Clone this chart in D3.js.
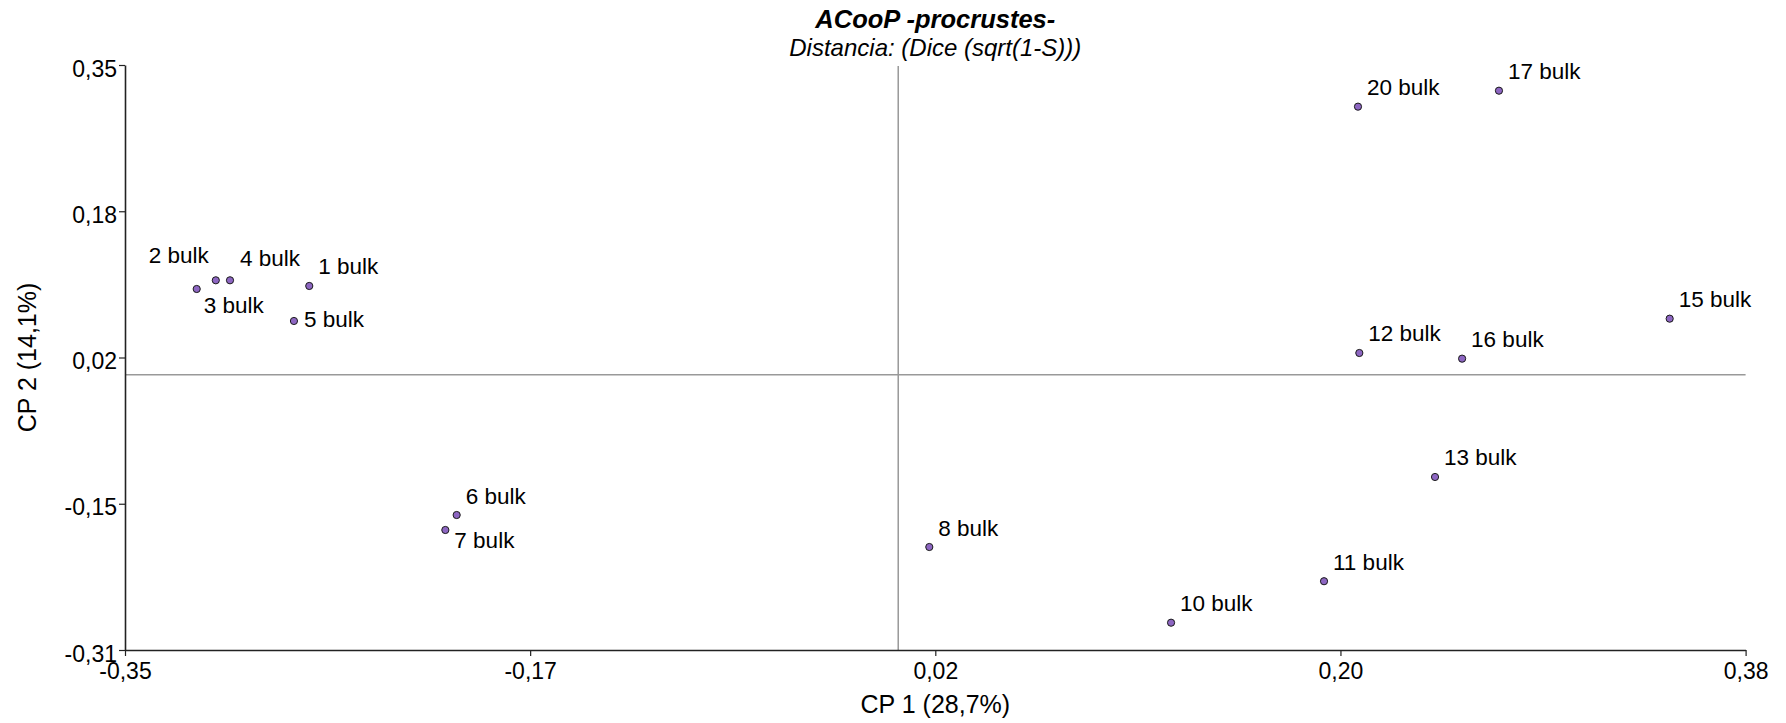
<!DOCTYPE html>
<html lang="es">
<head>
    <meta charset="utf-8">
    <script src="https://d3js.org/d3.v7.min.js"></script>
    <title>ACooP -procrustes-</title>
    <style>
        body { margin: 0; background: #fff; }
        svg { display: block; font-family: "Liberation Sans", Arial, sans-serif; }
    </style>
</head>
<body>
    <div id="container"></div>
    <script>
        // puntos (CP 1, CP 2)
        const names = ["1 bulk","2 bulk","3 bulk","4 bulk","5 bulk","6 bulk","7 bulk","8 bulk",
                       "10 bulk","11 bulk","12 bulk","13 bulk","15 bulk","16 bulk","17 bulk","20 bulk"];
        const cp1 = [-0.2653,-0.3074,-0.3160,-0.3010,-0.2722,-0.1989,-0.2040, 0.0140,
                      0.1229, 0.1918, 0.2077, 0.2418, 0.3475, 0.2540, 0.2706, 0.2071];
        const cp2 = [ 0.1001, 0.1065, 0.0967, 0.1065, 0.0606,-0.1583,-0.1752,-0.1944,
                     -0.2798,-0.2330, 0.0245,-0.1154, 0.0632, 0.0181, 0.3204, 0.3024];
        // donde va la etiqueta respecto del punto
        const labelPlace = ["ne","nw","se","n","e","ne","se2","ne",
                            "ne","ne","ne","ne","ne","ne","ne","ne"];

        const xTickLabels = ["-0,35","-0,17","0,02","0,20","0,38"];
        const yTickLabels = ["-0,31","-0,15","0,02","0,18","0,35"];
        const xDomain = [-0.3483, 0.3817];
        const yDomain = [-0.3106, 0.3494];

        const title = "ACooP -procrustes-";
        const subtitle = "Distancia: (Dice (sqrt(1-S)))";
        const xLabel = "CP 1 (28,7%)";
        const yLabel = "CP 2 (14,1%)";

        const w = 1786;
        const h = 723;
        const M = {left: 125, right: 1745.6, top: 65, bottom: 650};

        const places = {
            ne:  {dx: 9,  dy: -11.5, anchor: "start"},
            n:   {dx: 10, dy: -14, anchor: "start"},
            nw:  {dx: -7, dy: -17, anchor: "end"},
            e:   {dx: 10, dy: 6,   anchor: "start"},
            se:  {dx: 7,  dy: 24,  anchor: "start"},
            se2: {dx: 9,  dy: 18,  anchor: "start"}
        };

        const data = names.map((n, i) => ({name: n, x: cp1[i], y: cp2[i], place: labelPlace[i]}));

        const svg = d3.select("#container")
                      .append("svg")
                      .attr("width", w)
                      .attr("height", h);

        const xScale = d3.scaleLinear().domain(xDomain).range([M.left, M.right]);
        const yScale = d3.scaleLinear().domain(yDomain).range([M.bottom, M.top]);

        const xTicks = d3.range(5).map(i => xDomain[0] + i * (xDomain[1] - xDomain[0]) / 4);
        const yTicks = d3.range(5).map(i => yDomain[0] + i * (yDomain[1] - yDomain[0]) / 4);

        // lineas de referencia en el origen
        svg.append("line")
           .attr("x1", xScale(0)).attr("x2", xScale(0))
           .attr("y1", M.top + 1).attr("y2", M.bottom)
           .attr("stroke", "#999").attr("stroke-width", 1.5);
        svg.append("line")
           .attr("x1", M.left).attr("x2", M.right)
           .attr("y1", yScale(0)).attr("y2", yScale(0))
           .attr("stroke", "#999").attr("stroke-width", 1.5);

        const xAxis = d3.axisBottom(xScale)
                        .tickValues(xTicks)
                        .tickFormat((d, i) => xTickLabels[i])
                        .tickSize(6)
                        .tickSizeOuter(0)
                        .tickPadding(7);
        const gx = svg.append("g")
           .attr("id", "x-axis")
           .attr("transform", "translate(0," + M.bottom + ")")
           .call(xAxis);

        const yAxis = d3.axisLeft(yScale)
                        .tickValues(yTicks)
                        .tickFormat((d, i) => yTickLabels[i])
                        .tickSize(6)
                        .tickSizeOuter(0)
                        .tickPadding(2);
        const gy = svg.append("g")
           .attr("id", "y-axis")
           .attr("transform", "translate(" + M.left + ",0)")
           .call(yAxis);

        [gx, gy].forEach(g => {
            g.attr("font-family", null).attr("font-size", null);
            g.select(".domain").attr("stroke", "#222").attr("stroke-width", 1.6);
            g.selectAll(".tick line").attr("stroke", "#222").attr("stroke-width", 1.2);
            g.selectAll(".tick text").attr("fill", "#000").style("font-size", "23px");
        });
        gy.selectAll(".tick text").attr("dy", "0.48em");

        // puntos
        svg.selectAll("circle")
           .data(data)
           .enter()
           .append("circle")
           .attr("cx", d => xScale(d.x))
           .attr("cy", d => yScale(d.y))
           .attr("r", 3.6)
           .attr("fill", "#8d66c2")
           .attr("stroke", "#1a1a1a")
           .attr("stroke-width", 1);

        svg.selectAll("text.lbl")
           .data(data)
           .enter()
           .append("text")
           .attr("class", "lbl")
           .attr("x", d => xScale(d.x) + places[d.place].dx)
           .attr("y", d => yScale(d.y) + places[d.place].dy)
           .attr("text-anchor", d => places[d.place].anchor)
           .style("font-size", "22.5px")
           .text(d => d.name);

        // titulos
        const mid = (M.left + M.right) / 2;
        svg.append("text")
           .attr("x", mid).attr("y", 28)
           .attr("text-anchor", "middle")
           .style("font-size", "25.5px").style("font-weight", "bold").style("font-style", "italic")
           .text(title);
        svg.append("text")
           .attr("x", mid).attr("y", 56)
           .attr("text-anchor", "middle")
           .style("font-size", "24px").style("font-style", "italic")
           .text(subtitle);
        svg.append("text")
           .attr("x", mid).attr("y", 713)
           .attr("text-anchor", "middle")
           .style("font-size", "25px")
           .text(xLabel);
        svg.append("text")
           .attr("transform", "translate(36," + ((M.top + M.bottom) / 2) + ") rotate(-90)")
           .attr("text-anchor", "middle")
           .style("font-size", "25px")
           .text(yLabel);
    </script>
</body>
</html>
